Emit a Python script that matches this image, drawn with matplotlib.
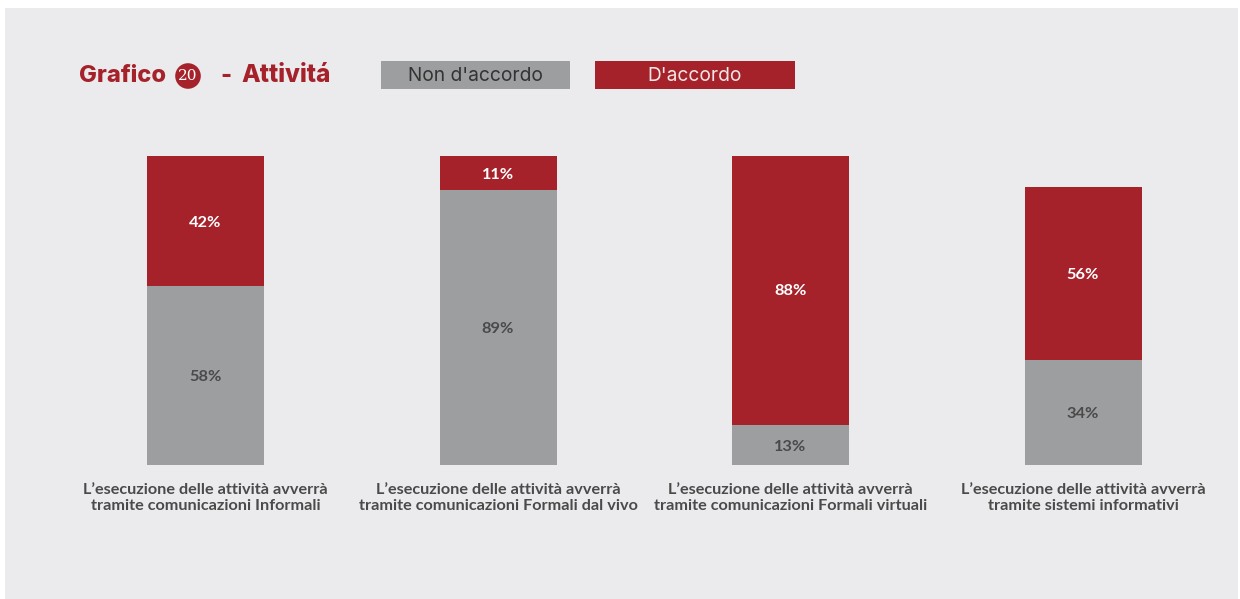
import matplotlib.pyplot as plt
from matplotlib.patches import Rectangle

categories = [
    "L\u2019esecuzione delle attività avverrà\ntramite comunicazioni Informali",
    "L\u2019esecuzione delle attività avverrà\ntramite comunicazioni Formali dal vivo",
    "L\u2019esecuzione delle attività avverrà\ntramite comunicazioni Formali virtuali",
    "L\u2019esecuzione delle attività avverrà\ntramite sistemi informativi",
]
non_accordo = [58, 89, 13, 34]
accordo = [42, 11, 88, 56]
series_names = ["Non d'accordo", "D'accordo"]

grey = "#9d9ea0"
red = "#a6222b"
bg = "#ebebed"
txt = "#4a4a4a"

W, H = 1240, 599
fig = plt.figure(figsize=(W / 100, H / 100), dpi=100)
fig.patch.set_facecolor("white")

# grey panel behind everything
fig.patches.append(Rectangle((5 / W, 0), (1238 - 5) / W, (H - 8) / H,
                             transform=fig.transFigure, facecolor=bg,
                             edgecolor="none", zorder=-10))

# axes sized so 1 category = 292.5 px, 100% = 309 px
left = (205.5 - 146.25) / W
ax = fig.add_axes([left, (H - 465) / H, 1170 / W, 309 / H])
ax.set_zorder(5)
ax.set_xlim(-0.5, 3.5)
ax.set_ylim(0, 100)
ax.set_facecolor("none")
for s in ax.spines.values():
    s.set_visible(False)
ax.set_yticks([])
ax.tick_params(axis="x", length=0, pad=13)

x = range(len(categories))
ax.bar(x, non_accordo, width=0.4, color=grey, zorder=2)
ax.bar(x, accordo, width=0.4, bottom=non_accordo, color=red, zorder=2)

for i in x:
    ax.text(i, non_accordo[i] / 2 - 0.6, f"{non_accordo[i]}%", ha="center", va="center",
            fontsize=11.8, fontweight="bold", family="Lato", color=txt)
    ax.text(i, non_accordo[i] + accordo[i] / 2 - 0.6, f"{accordo[i]}%", ha="center",
            va="center", fontsize=11.8, fontweight="bold", family="Lato", color="white")

ax.set_xticks(list(x))
ax.set_xticklabels(categories, fontsize=11.7, fontweight="bold", family="Lato",
                   color=txt, linespacing=1.2)

# title
ty = 1 - 76 / H
fig.text(79 / W, ty, "Grafico", fontsize=17, fontweight="heavy", family="Inter",
         color=red, va="center", ha="left")
fig.text(188 / W, ty, "20", fontsize=11, family="DejaVu Serif", color="white",
         va="center", ha="center",
         bbox=dict(boxstyle="circle,pad=0.2", facecolor=red, edgecolor="none"))
fig.text(226 / W, ty, "-", fontsize=17, fontweight="heavy", family="Inter",
         color=red, va="center", ha="center")
fig.text(241 / W, ty, "Attivitá", fontsize=17.5, fontweight="heavy", family="Inter",
         color=red, va="center", ha="left")

# legend boxes
boxes = [(381, 570, grey, "#333333"), (595, 795, red, "#f2e6e6")]
for (x0, x1, c, tc), name in zip(boxes, series_names):
    fig.patches.append(Rectangle((x0 / W, 1 - 89 / H), (x1 - x0) / W, 28 / H,
                                 transform=fig.transFigure, facecolor=c,
                                 edgecolor="none"))
    fig.text((x0 + x1) / 2 / W, 1 - 76 / H, name, fontsize=13.8, family="Inter",
             color=tc, ha="center", va="center")

fig.savefig("out.png", dpi=100, facecolor=fig.get_facecolor())
